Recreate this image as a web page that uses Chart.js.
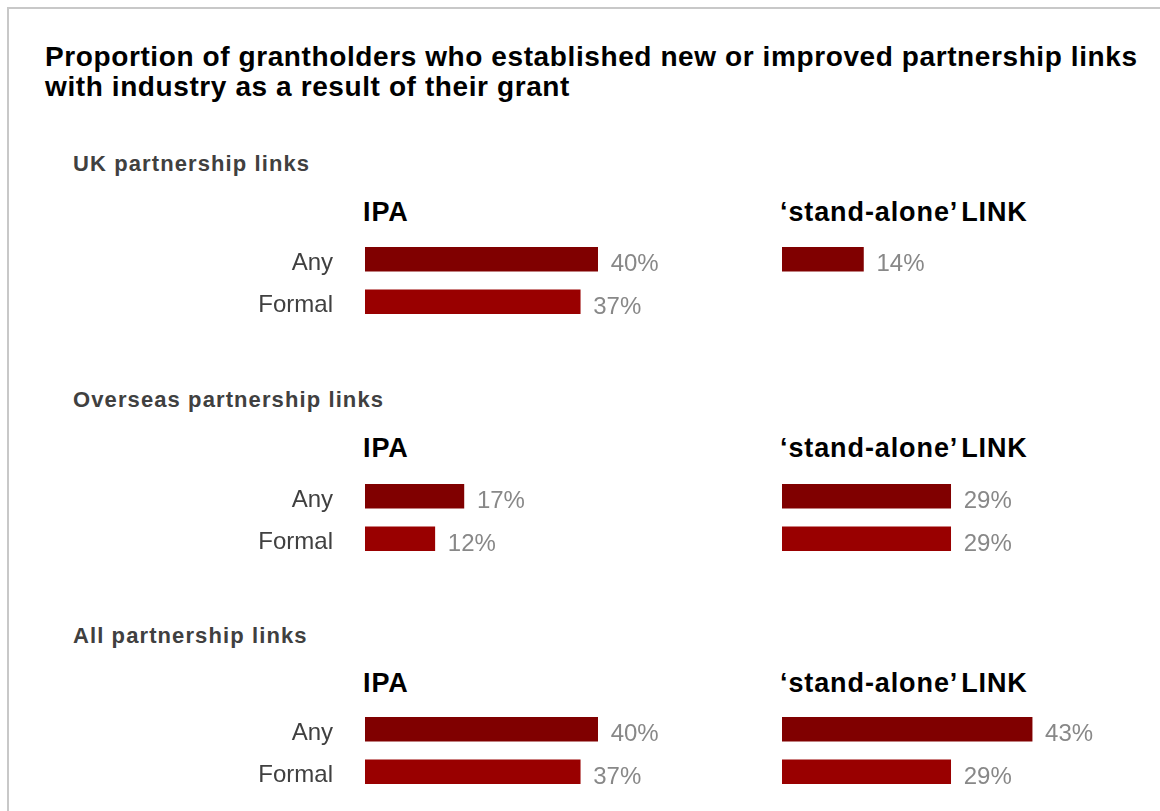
<!DOCTYPE html>
<html>
<head>
<meta charset="utf-8">
<script src="https://cdn.jsdelivr.net/npm/chart.js@4"></script>
<style>
  body { margin: 0; background: #fff; width: 1160px; height: 811px; overflow: hidden; position: relative; font-family: "Liberation Sans", Arial, sans-serif; }
  .frame { position: absolute; left: 7px; top: 7px; width: 1200px; height: 900px; border-top: 2px solid #c8c8c8; border-left: 2px solid #c8c8c8; }
  .txt { position: absolute; white-space: nowrap; line-height: 1; }
  .title { left: 45px; top: 42px; font-size: 28px; letter-spacing: 0.6px; font-weight: bold; color: #000; line-height: 30px; }
  .section { left: 73px; font-size: 22px; letter-spacing: 1.1px; font-weight: bold; color: #404040; }
  .group { font-size: 27px; letter-spacing: 0.9px; word-spacing: -4px; font-weight: bold; color: #000; }
  canvas { position: absolute; }
</style>
</head>
<body>
<div class="frame"></div>
<div class="txt title">Proportion of grantholders who established new or improved partnership links<br>with industry as a result of their grant</div>

<div class="txt section" style="top:153px">UK partnership links</div>
<div class="txt group" style="left:363px; top:199px">IPA</div>
<div class="txt group" style="left:780px; top:199px">‘stand-alone’ LINK</div>

<div class="txt section" style="top:389px">Overseas partnership links</div>
<div class="txt group" style="left:363px; top:435px">IPA</div>
<div class="txt group" style="left:780px; top:435px">‘stand-alone’ LINK</div>

<div class="txt section" style="top:625px">All partnership links</div>
<div class="txt group" style="left:363px; top:670px">IPA</div>
<div class="txt group" style="left:780px; top:670px">‘stand-alone’ LINK</div>

<canvas id="ipaUK" width="514" height="85" style="left:200px; top:238px"></canvas>
<canvas id="linkUK" width="349" height="85" style="left:782px; top:238px"></canvas>
<canvas id="ipaOverseas" width="514" height="85" style="left:200px; top:475px"></canvas>
<canvas id="linkOverseas" width="349" height="85" style="left:782px; top:475px"></canvas>
<canvas id="ipaAll" width="514" height="85" style="left:200px; top:708px"></canvas>
<canvas id="linkAll" width="349" height="85" style="left:782px; top:708px"></canvas>

<script>
// categories and % of grantholders
const categories = ['Any', 'Formal'];
const ipaUK = [40, 37];
const linkUK = [14, null];
const ipaOverseas = [17, 12];
const linkOverseas = [29, 29];
const ipaAll = [40, 37];
const linkAll = [43, 29];

const barColors = ['#800000', '#990000'];
const axisMax = 60;

// value text after the end of each bar
const valueLabels = {
  id: 'valueLabels',
  afterDatasetsDraw(chart) {
    const ctx = chart.ctx;
    const ds = chart.data.datasets[0];
    const meta = chart.getDatasetMeta(0);
    ctx.save();
    ctx.font = '24px "Liberation Sans", Arial, sans-serif';
    ctx.fillStyle = '#888888';
    ctx.textAlign = 'left';
    ctx.textBaseline = 'alphabetic';
    meta.data.forEach((bar, i) => {
      const v = ds.data[i];
      if (v == null) return;
      ctx.fillText(v + '%', bar.x + 13, bar.y + 12);
    });
    ctx.restore();
  }
};

function panel(id, values, showCategories) {
  new Chart(document.getElementById(id), {
    type: 'bar',
    data: {
      labels: categories,
      datasets: [{
        data: values,
        backgroundColor: barColors,
        barThickness: 24,
        borderWidth: 0
      }]
    },
    options: {
      indexAxis: 'y',
      responsive: false,
      animation: false,
      devicePixelRatio: 1,
      layout: { padding: 0 },
      plugins: { legend: { display: false }, tooltip: { enabled: false } },
      scales: {
        x: { display: false, min: 0, max: axisMax },
        y: {
          display: showCategories,
          grid: { display: false, drawTicks: false },
          border: { display: false },
          ticks: {
            color: '#404040',
            padding: 32,
            labelOffset: 4,
            font: { family: '"Liberation Sans", Arial, sans-serif', size: 24 }
          },
          afterFit(scale) {
            scale.width = showCategories ? 165 : 0;
            scale.paddingTop = 0;
            scale.paddingBottom = 0;
          }
        }
      }
    },
    plugins: [valueLabels]
  });
}

panel('ipaUK', ipaUK, true);
panel('linkUK', linkUK, false);
panel('ipaOverseas', ipaOverseas, true);
panel('linkOverseas', linkOverseas, false);
panel('ipaAll', ipaAll, true);
panel('linkAll', linkAll, false);
</script>
</body>
</html>
